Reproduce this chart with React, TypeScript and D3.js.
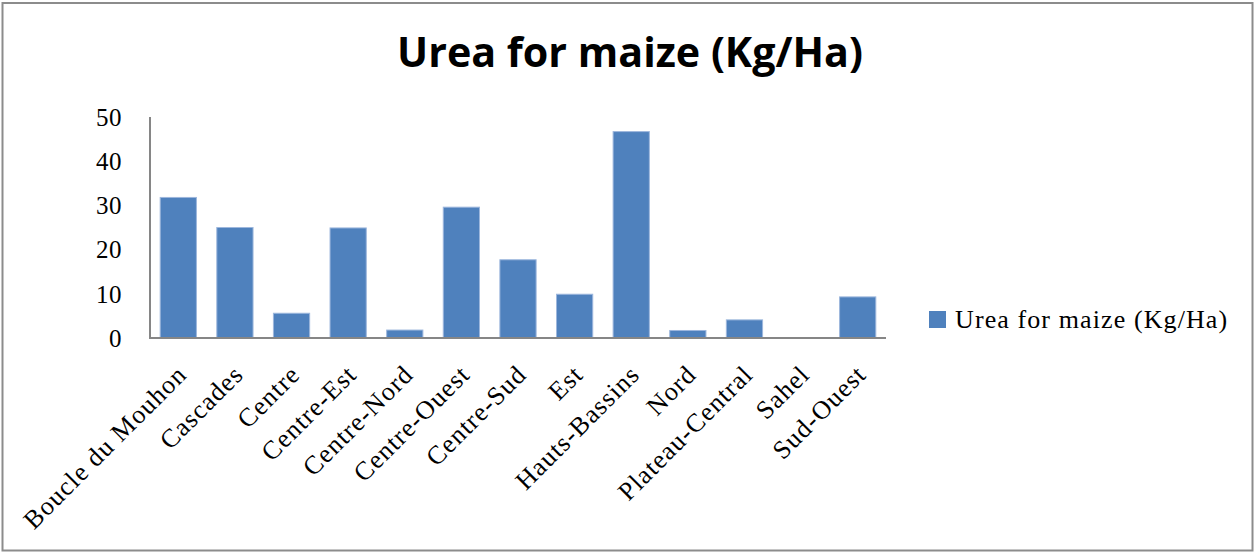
import React from "react";
import * as d3 from "d3";

const categories = [
  "Boucle du Mouhon",
  "Cascades",
  "Centre",
  "Centre-Est",
  "Centre-Nord",
  "Centre-Ouest",
  "Centre-Sud",
  "Est",
  "Hauts-Bassins",
  "Nord",
  "Plateau-Central",
  "Sahel",
  "Sud-Ouest",
];
const values = [31.8, 25, 5.6, 24.9, 1.8, 29.6, 17.7, 9.9, 46.7, 1.7, 4.1, 0, 9.3];
const yTicks = [0, 10, 20, 30, 40, 50];
const seriesName = "Urea for maize (Kg/Ha)";
const title = "Urea for maize (Kg/Ha)";

const W = 1255;
const H = 553;
const left = 150;
const right = 886;
const top = 117;
const bottom = 338;
const serif = "'Liberation Serif', 'Times New Roman', serif";

export default function App() {
  const x = d3.scaleBand<string>().domain(categories).range([left, right]).paddingInner(0.36).paddingOuter(0.18);
  const y = d3.scaleLinear().domain([0, 50]).range([bottom, top]);
  return (
    <svg width={W} height={H} style={{ position: "absolute", left: 0, top: 0, background: "#fff" }}>
      <rect x={2.5} y={3} width={1250} height={547.5} fill="#fff" stroke="#8c8c8c" strokeWidth={2} />
      <text
        x={630}
        y={67}
        textAnchor="middle"
        fontFamily="'Open Sans', 'Liberation Sans', sans-serif"
        fontWeight={700}
        fontSize={42}
        textLength={466}
        lengthAdjust="spacingAndGlyphs"
        fill="#000"
      >
        {title}
      </text>
      {values.map((v, i) => (
        <rect
          key={categories[i]}
          x={x(categories[i])!}
          y={y(v)}
          width={x.bandwidth()}
          height={bottom - y(v)}
          fill="#4F81BD"
          stroke="#9db7dd"
          strokeWidth={v > 0 ? 1 : 0}
        />
      ))}
      <line x1={left} x2={left} y1={top} y2={bottom + 1} stroke="#868686" strokeWidth={2} />
      <line x1={left - 1} x2={right} y1={bottom} y2={bottom} stroke="#868686" strokeWidth={2} />
      {yTicks.map((t) => (
        <text key={t} x={122} y={y(t)} dy="0.35em" textAnchor="end" fontFamily={serif} fontSize={25} letterSpacing={0.5} fill="#000">
          {t}
        </text>
      ))}
      {categories.map((c) => {
        const cx = x(c)! + x.bandwidth() / 2;
        return (
          <text
            key={c}
            transform={`translate(${cx + 10},${bottom + 38}) rotate(-45)`}
            textAnchor="end"
            fontFamily={serif}
            fontSize={26}
            letterSpacing={1.1}
            fill="#000"
          >
            {c}
          </text>
        );
      })}
      <rect x={929} y={311} width={17} height={17} fill="#4F81BD" />
      <text x={955} y={328} fontFamily={serif} fontSize={26} letterSpacing={1.1} fill="#000">
        {seriesName}
      </text>
    </svg>
  );
}
